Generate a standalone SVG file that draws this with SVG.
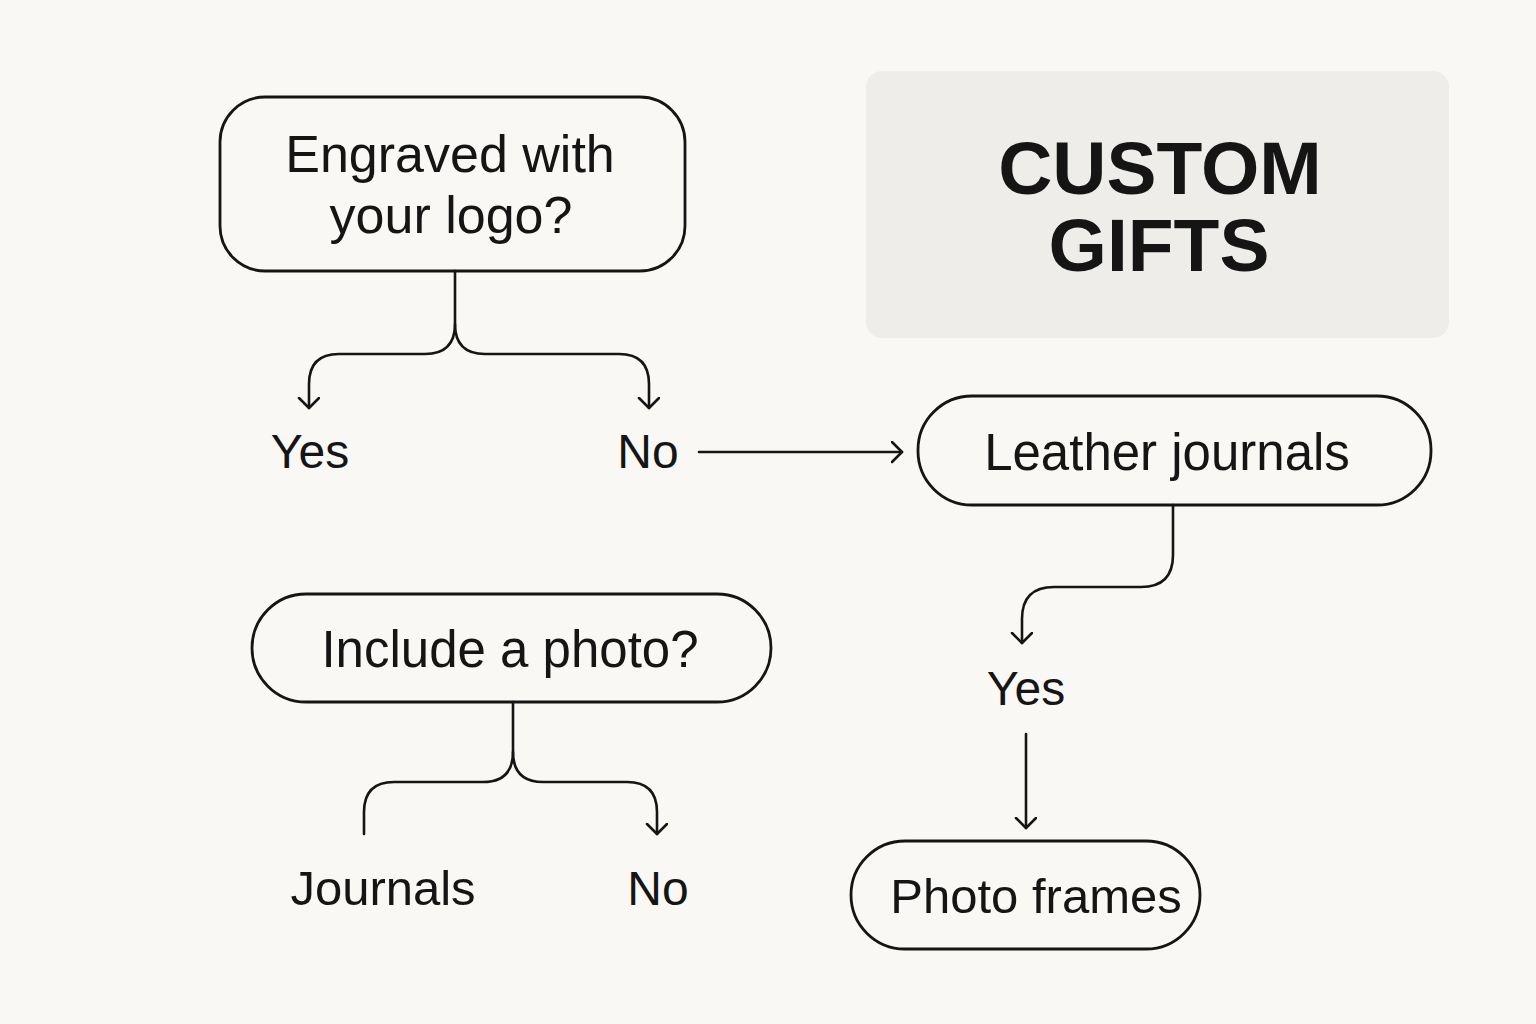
<svg xmlns="http://www.w3.org/2000/svg" width="1536" height="1024" viewBox="0 0 1536 1024">
<style>
.node{fill:none;stroke:#151515;stroke-width:2.8}
.t{font-family:"Liberation Sans",Arial,sans-serif;fill:#151515;text-anchor:middle}
.n{font-size:51px}
.l{font-size:48px}
.c{fill:none;stroke:#151515;stroke-width:2.6;stroke-linecap:round;stroke-linejoin:round}
</style>
<defs>
<marker id="ah" markerUnits="userSpaceOnUse" markerWidth="24" markerHeight="24" refX="11" refY="11" orient="auto" viewBox="0 0 24 24">
<path d="M1,1 L11,11 L1,21" fill="none" stroke="#151515" stroke-width="2.6" stroke-linecap="round" stroke-linejoin="round"/>
</marker>
</defs>
<rect width="1536" height="1024" fill="#f9f8f5"/>
<g id="title">
<rect x="866" y="71" width="583" height="267" rx="16" fill="#eeedea"/>
<text class="t" x="1160" y="194" font-size="75" font-weight="bold">CUSTOM</text>
<text class="t" x="1159" y="271" font-size="75" font-weight="bold">GIFTS</text>
</g>
<g id="engraved">
<rect class="node" x="220" y="97" width="465" height="174" rx="45"/>
<text class="t" x="450" y="172" font-size="52">Engraved with</text>
<text class="t" x="451" y="233" font-size="52">your logo?</text>
</g>
<g id="yes1"><text class="t l" x="310" y="468">Yes</text></g>
<g id="no1"><text class="t l" x="648" y="468">No</text></g>
<g id="leather">
<rect class="node" x="918" y="396" width="513" height="109" rx="54"/>
<text class="t n" x="1167" y="470">Leather journals</text>
</g>
<g id="yes2"><text class="t l" x="1026" y="705">Yes</text></g>
<g id="include">
<rect class="node" x="252" y="594" width="519" height="108" rx="54"/>
<text class="t n" x="510" y="667">Include a photo?</text>
</g>
<g id="journals"><text class="t" x="383" y="905" font-size="49">Journals</text></g>
<g id="no2"><text class="t l" x="658" y="905">No</text></g>
<g id="photoframes">
<rect class="node" x="851" y="841" width="349" height="108" rx="54"/>
<text class="t" x="1036" y="913" font-size="49">Photo frames</text>
</g>
<g id="connectors">
<path class="c" d="M455,271 V324 Q455,354 425,354 H339 Q309,354 309,384 V408" marker-end="url(#ah)"/>
<path class="c" d="M455,324 Q455,354 485,354 H619 Q649,354 649,384 V408" marker-end="url(#ah)"/>
<path class="c" d="M699,452 H902" marker-end="url(#ah)"/>
<path class="c" d="M1173,505 V555 Q1173,587 1141,587 H1054 Q1022,587 1022,619 V643" marker-end="url(#ah)"/>
<path class="c" d="M1026,734 V828" marker-end="url(#ah)"/>
<path class="c" d="M513,702 V752 Q513,782 483,782 H394 Q364,782 364,812 V834"/>
<path class="c" d="M513,752 Q513,782 543,782 H627 Q657,782 657,812 V834" marker-end="url(#ah)"/>
</g>
</svg>
